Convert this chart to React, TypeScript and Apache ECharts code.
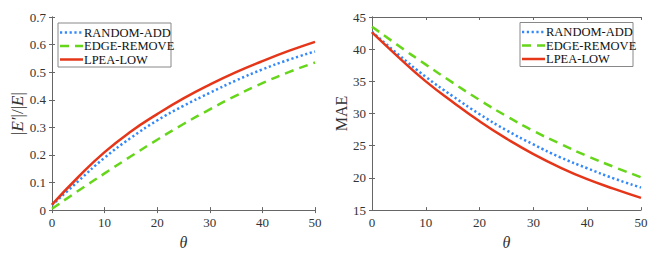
import React, { useEffect, useRef } from "react";
import * as echarts from "echarts";

const theta = [0, 5, 10, 15, 20, 25, 30, 35, 40, 45, 50];
const seriesNames = ["RANDOM-ADD", "EDGE-REMOVE", "LPEA-LOW"];

// Left chart: |E'|/|E|
const ratioRandomAdd = [0.018, 0.105, 0.19, 0.262, 0.325, 0.378, 0.425, 0.47, 0.51, 0.545, 0.575];
const ratioEdgeRemove = [0.005, 0.07, 0.133, 0.195, 0.255, 0.312, 0.365, 0.415, 0.46, 0.5, 0.535];
const ratioLpeaLow = [0.02, 0.12, 0.21, 0.285, 0.348, 0.405, 0.455, 0.5, 0.54, 0.577, 0.61];

// Right chart: MAE
const maeRandomAdd = [42.7, 39.1, 35.7, 32.7, 29.9, 27.4, 25.2, 23.2, 21.5, 19.9, 18.5];
const maeEdgeRemove = [43.5, 40.5, 37.6, 34.8, 32.1, 29.6, 27.3, 25.3, 23.4, 21.7, 20.1];
const maeLpeaLow = [42.6, 38.7, 35.0, 31.8, 28.8, 26.1, 23.7, 21.6, 19.8, 18.3, 16.9];

const colors = ["#3389fa", "#66d61a", "#e5361a"];
const lineTypes: any[] = [[2.2, 2.6], [9, 6], "solid"];
const FONT = "Liberation Serif";

const pairs = (ys: number[]) => theta.map((t, i) => [t, ys[i]]);

function legendGraphic(x: number, y: number) {
  const children: any[] = [
    {
      type: "rect", shape: { x: 0, y: 0, width: 113, height: 44 },
      style: { fill: "#fff", stroke: "#888", lineWidth: 1 },
    },
  ];
  seriesNames.forEach((name, i) => {
    const cy = 9.5 + i * 13.5;
    children.push({
      type: "line", shape: { x1: 2, y1: cy, x2: 25, y2: cy },
      style: { stroke: colors[i], lineWidth: 2.5, lineDash: Array.isArray(lineTypes[i]) ? lineTypes[i] : null },
    });
    children.push({
      type: "text", x: 26, y: cy,
      style: {
        text: name, fontFamily: FONT, fontSize: 12.5, lineHeight: 12, fill: "#111",
        verticalAlign: "middle", align: "left",
      },
    });
  });
  return { type: "group", x, y, z: 100, children };
}

export default function App() {
  const ref = useRef<HTMLDivElement>(null);
  useEffect(() => {
    if (!ref.current) return;
    const chart = echarts.init(ref.current, null, { renderer: "svg" });
    const axisLine = { show: true, lineStyle: { color: "#666", width: 1 } };
    const tick = { show: true, inside: true, length: 3, lineStyle: { color: "#666" } };
    const label = { color: "#333", fontFamily: FONT, fontSize: 13 };
    const grids = [
      { left: 52, top: 17, width: 263, height: 200 },
      { left: 372, top: 17, width: 269, height: 200 },
    ];
    const xAxes: any[] = [];
    const yAxes: any[] = [];
    [0, 1].forEach((g) => {
      xAxes.push({
        type: "value", gridIndex: g, min: 0, max: 50, interval: 10, position: "bottom",
        axisLine, axisTick: tick, splitLine: { show: false },
        axisLabel: { ...label, margin: 6 },
        name: "θ", nameLocation: "middle", nameGap: 12,
        nameTextStyle: { fontFamily: FONT, fontSize: 16, fontStyle: "italic", color: "#333" },
      });
      xAxes.push({
        type: "value", gridIndex: g, min: 0, max: 50, interval: 10, position: "top",
        axisLine, axisTick: tick, splitLine: { show: false }, axisLabel: { show: false },
      });
    });
    yAxes.push({
      type: "value", gridIndex: 0, min: 0, max: 0.7, interval: 0.1, position: "left",
      axisLine, axisTick: tick, splitLine: { show: false },
      axisLabel: { ...label, margin: 6 },
      name: "{n||}{i|E′}{n||/|}{i|E}{n||}", nameLocation: "middle", nameGap: 24, nameRotate: 90,
      nameTextStyle: {
        fontFamily: FONT, fontSize: 16, color: "#333",
        rich: {
          n: { fontFamily: FONT, fontSize: 17, color: "#333" },
          i: { fontFamily: FONT, fontSize: 17, fontStyle: "italic", color: "#333" },
        },
      },
    });
    yAxes.push({
      type: "value", gridIndex: 0, min: 0, max: 0.7, interval: 0.1, position: "right",
      axisLine, axisTick: tick, splitLine: { show: false }, axisLabel: { show: false },
    });
    yAxes.push({
      type: "value", gridIndex: 1, min: 15, max: 45, interval: 5, position: "left",
      axisLine, axisTick: tick, splitLine: { show: false },
      axisLabel: { ...label, margin: 6 },
      name: "MAE", nameLocation: "middle", nameGap: 21, nameRotate: 90,
      nameTextStyle: { fontFamily: FONT, fontSize: 16, color: "#333" },
    });
    yAxes.push({
      type: "value", gridIndex: 1, min: 15, max: 45, interval: 5, position: "right",
      axisLine, axisTick: tick, splitLine: { show: false }, axisLabel: { show: false },
    });

    const leftData = [ratioRandomAdd, ratioEdgeRemove, ratioLpeaLow];
    const rightData = [maeRandomAdd, maeEdgeRemove, maeLpeaLow];
    const series: any[] = [];
    [0, 1, 2].forEach((i) => {
      series.push({
        type: "line", name: seriesNames[i], xAxisIndex: 0, yAxisIndex: 0,
        data: pairs(leftData[i]), smooth: true, symbol: "none", z: i === 2 ? 3 : 2,
        lineStyle: { color: colors[i], width: 2.5, type: lineTypes[i] },
        itemStyle: { color: colors[i] },
      });
      series.push({
        type: "line", name: seriesNames[i], xAxisIndex: 2, yAxisIndex: 2,
        data: pairs(rightData[i]), smooth: true, symbol: "none", z: i === 2 ? 3 : 2,
        lineStyle: { color: colors[i], width: 2.5, type: lineTypes[i] },
        itemStyle: { color: colors[i] },
      });
    });

    chart.setOption({
      animation: false,
      backgroundColor: "#fff",
      grid: grids,
      xAxis: xAxes,
      yAxis: yAxes,
      series,
      graphic: [legendGraphic(58, 23), legendGraphic(520, 22.5)],
    });
    return () => chart.dispose();
  }, []);
  return <div ref={ref} style={{ width: 663, height: 255, position: "absolute", left: 0, top: 0 }} />;
}
